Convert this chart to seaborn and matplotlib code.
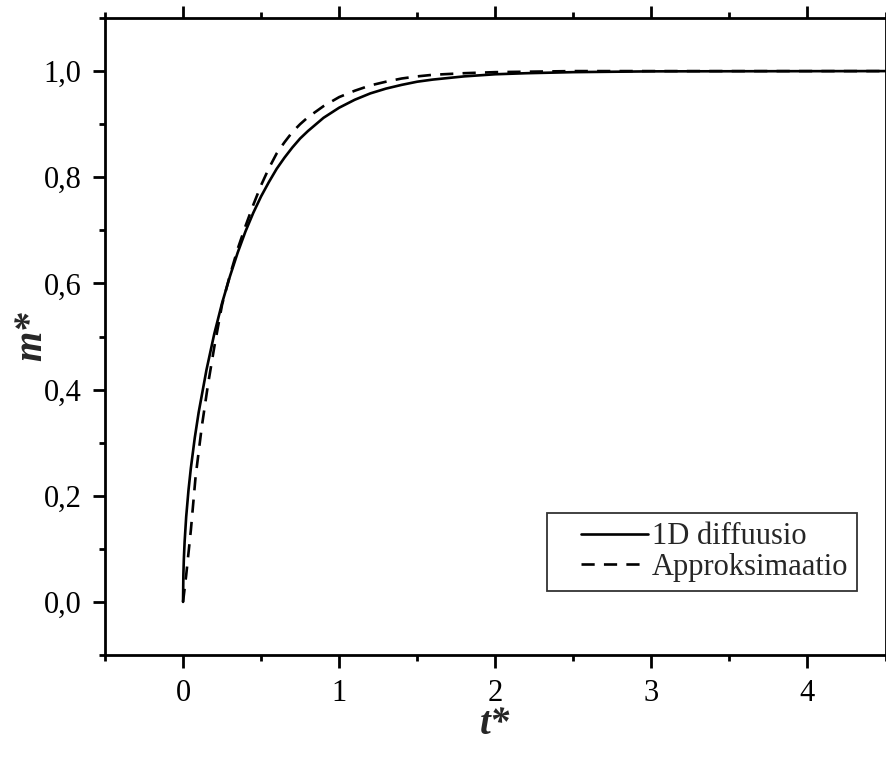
import numpy as np
import pandas as pd
import matplotlib
matplotlib.use("Agg")
import matplotlib.pyplot as plt
from matplotlib.ticker import FuncFormatter, MultipleLocator
from matplotlib.legend_handler import HandlerLine2D
from matplotlib.lines import Line2D
import seaborn as sns

# ---- data ----
t_diff = [0, 0.002, 0.005, 0.01, 0.02, 0.035, 0.05, 0.075, 0.1, 0.15, 0.2, 0.25,
          0.3, 0.35, 0.4, 0.45, 0.5, 0.55, 0.6, 0.65, 0.7, 0.75, 0.8, 0.9, 1.0, 1.1,
          1.2, 1.3, 1.4, 1.5, 1.6, 1.8, 2.0, 2.2, 2.5, 3.0, 4.5]
m_diff = [0, 0.050, 0.080, 0.113, 0.160, 0.211, 0.252, 0.309, 0.357, 0.437, 0.505, 0.563,
          0.613, 0.658, 0.698, 0.733, 0.764, 0.791, 0.816, 0.837, 0.856, 0.873, 0.887,
          0.912, 0.931, 0.946, 0.958, 0.967, 0.974, 0.980, 0.984, 0.990, 0.994, 0.996,
          0.998, 0.9995, 1.0]

t_appr = [0, 0.02, 0.05, 0.08, 0.12, 0.16, 0.2, 0.25, 0.3, 0.35, 0.4, 0.45, 0.5,
          0.55, 0.6, 0.65, 0.7, 0.75, 0.8, 0.9, 1.0, 1.1, 1.2, 1.3, 1.4, 1.5, 1.6,
          1.8, 2.0, 2.5, 3.0, 4.5]
m_appr = [0, 0.05, 0.135, 0.235, 0.33, 0.41, 0.48, 0.56, 0.615, 0.665, 0.708, 0.748, 0.785,
          0.817, 0.845, 0.866, 0.885, 0.900, 0.913, 0.934, 0.951, 0.963, 0.973, 0.980,
          0.986, 0.990, 0.993, 0.996, 0.998, 1.0, 1.0, 1.0]

series_names = ["1D diffuusio", "Approksimaatio"]
x_ticks = [0, 1, 2, 3, 4]
y_ticks = [0.0, 0.2, 0.4, 0.6, 0.8, 1.0]

df = pd.concat([
    pd.DataFrame({"t": t_diff, "m": m_diff, "Malli": series_names[0]}),
    pd.DataFrame({"t": t_appr, "m": m_appr, "Malli": series_names[1]}),
], ignore_index=True)

sns.set_theme(style="ticks")
plt.rcParams["font.family"] = ["Liberation Serif", "DejaVu Serif"]

fig = plt.figure(figsize=(8.87, 7.62), dpi=100)
ax = fig.add_axes([105 / 887, 1 - 655 / 762, 780.5 / 887, (655 - 18) / 762])

sns.lineplot(data=df, x="t", y="m", hue="Malli", style="Malli",
             palette={series_names[0]: "black", series_names[1]: "black"},
             dashes={series_names[0]: "", series_names[1]: (5, 3.5)},
             linewidth=1.9, errorbar=None, ax=ax)

ax.set_xlim(-0.5, 4.5)
ax.set_ylim(-0.1, 1.1)
ax.set_xticks(x_ticks)
ax.set_yticks(y_ticks)
ax.xaxis.set_minor_locator(MultipleLocator(0.5))
ax.yaxis.set_minor_locator(MultipleLocator(0.1))

fmt = FuncFormatter(lambda v, p: f"{v:.1f}".replace(".", ","))
ax.yaxis.set_major_formatter(fmt)
ax.xaxis.set_major_formatter(FuncFormatter(lambda v, p: f"{v:g}"))

for s in ax.spines.values():
    s.set_visible(True)
    s.set_linewidth(2.0)
    s.set_color("black")

ax.tick_params(which="both", direction="out", top=True, right=True,
               width=2.0, colors="black", labelsize=22)
ax.tick_params(which="major", length=9, pad=8)
ax.tick_params(which="minor", length=4.5)

ax.set_xlabel("t*", fontsize=28, fontweight="bold", fontstyle="italic")
ax.set_ylabel("m*", fontsize=28, fontweight="bold", fontstyle="italic")
ax.xaxis.set_label_coords(0.5, (655 - 725) / 637)
ax.xaxis.label.set_va("center")
ax.yaxis.set_label_coords((32 - 105) / 780.5, 0.5)
ax.yaxis.label.set_va("center")

handles, labels = ax.get_legend_handles_labels()
leg = ax.legend(handles, labels, loc="lower right", bbox_to_anchor=(0.964, 0.1005),
                borderaxespad=0, fontsize=22, frameon=True, fancybox=False,
                handlelength=3.0, handletextpad=0.12, borderpad=0.3,
                labelspacing=0.05, title=None,
                handler_map={Line2D: HandlerLine2D(xpad=0.8)})
leg.get_frame().set_edgecolor("black")
leg.get_frame().set_linewidth(1.3)
for line in leg.get_lines():
    line.set_linewidth(1.9)

fig.savefig("out.png", dpi=100)
